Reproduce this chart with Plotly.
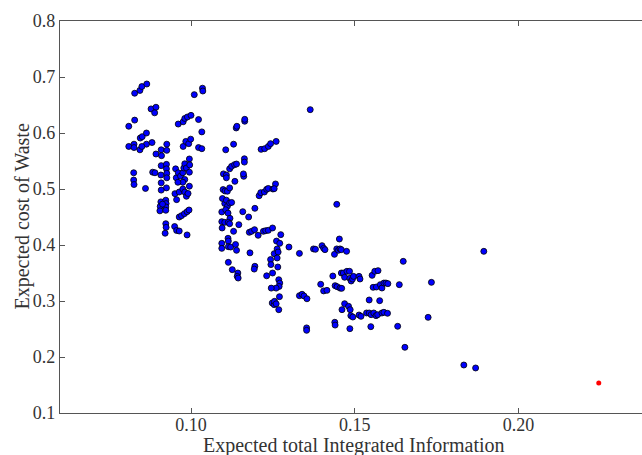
import plotly.graph_objects as go

# Expected total Integrated Information (x) and Expected cost of Waste (y)
x_blue = [
    0.0810, 0.0810, 0.0828, 0.0844, 0.0850, 0.0865, 0.0828, 0.0826, 0.0826, 0.0844,
    0.0845, 0.0851, 0.0864, 0.0864, 0.0850, 0.0881, 0.0878, 0.0893, 0.0889, 0.0825,
    0.0825, 0.0826, 0.0861, 0.0883, 0.0890, 0.0893, 0.0909, 0.0910, 0.0926, 0.0926,
    0.0909, 0.0908, 0.0925, 0.0925, 0.0926, 0.0926, 0.0909, 0.0925, 0.0909, 0.0908,
    0.0906, 0.0905, 0.0923, 0.0924, 0.0923, 0.0923, 0.0913, 0.0923, 0.0924, 0.0921,
    0.0950, 0.0956, 0.0964, 0.1010, 0.1035, 0.1036, 0.0961, 0.0976, 0.0981, 0.0989,
    0.1000, 0.1023, 0.1033, 0.0976, 0.0984, 0.0993, 0.0999, 0.1023, 0.1033, 0.0953,
    0.0955, 0.0961, 0.0968, 0.0975, 0.0978, 0.0981, 0.0986, 0.0995, 0.0981, 0.0975,
    0.0995, 0.0996, 0.0960, 0.0951, 0.0964, 0.0975, 0.0981, 0.0986, 0.0991, 0.0995,
    0.0956, 0.0964, 0.0971, 0.0980, 0.0988, 0.0994, 0.0988,
    0.1106, 0.1130, 0.1138, 0.1140, 0.1164, 0.1164, 0.1099, 0.1108, 0.1108, 0.1118,
    0.1124, 0.1133, 0.1139, 0.1161, 0.1160, 0.1163, 0.1163, 0.1134, 0.1098, 0.1104,
    0.1111, 0.1118, 0.1096, 0.1103, 0.1108, 0.1111, 0.1118, 0.1124, 0.1094, 0.1106,
    0.1113, 0.1119, 0.1094, 0.1103, 0.1114, 0.1118, 0.1130, 0.1146, 0.1158, 0.1095,
    0.1094, 0.1094, 0.1113, 0.1114, 0.1114, 0.1121, 0.1136, 0.1139, 0.1114, 0.1126,
    0.1143, 0.1141, 0.1144, 0.1180, 0.1195, 0.1193, 0.1176, 0.1195, 0.1178, 0.1185,
    0.1194, 0.1205, 0.1214, 0.1225, 0.1236, 0.1243, 0.1260, 0.1208, 0.1213, 0.1224,
    0.1231, 0.1236, 0.1250, 0.1258, 0.1254, 0.1221, 0.1228, 0.1236, 0.1249, 0.1231,
    0.1243, 0.1254, 0.1261, 0.1263, 0.1266, 0.1271, 0.1244, 0.1249, 0.1263, 0.1265,
    0.1274, 0.1268, 0.1271, 0.1269, 0.1260, 0.1245, 0.1270, 0.1248, 0.1254, 0.1255,
    0.1260, 0.1268,
    0.1299, 0.1331, 0.1364, 0.1331, 0.1339, 0.1345, 0.1354, 0.1353, 0.1353, 0.1374,
    0.1380, 0.1400, 0.1405, 0.1409, 0.1396, 0.1405, 0.1415, 0.1433, 0.1438, 0.1439,
    0.1440,
    0.1445, 0.1453, 0.1445, 0.1450, 0.1455, 0.1459, 0.1475, 0.1440, 0.1446, 0.1455,
    0.1460, 0.1459, 0.1465, 0.1469, 0.1476, 0.1484, 0.1485, 0.1489, 0.1493, 0.1496,
    0.1513, 0.1516, 0.1461, 0.1469, 0.1481, 0.1486, 0.1488, 0.1494, 0.1485, 0.1513,
    0.1519, 0.1536, 0.1544, 0.1550, 0.1558, 0.1565, 0.1570, 0.1583, 0.1589, 0.1600,
    0.1544, 0.1576, 0.1553, 0.1561, 0.1571, 0.1556, 0.1566, 0.1578, 0.1583, 0.1589,
    0.1595, 0.1601, 0.1549, 0.1631, 0.1636, 0.1648, 0.1653, 0.1724, 0.1734, 0.1833,
    0.1869, 0.1894,
]
y_blue = [
    0.612, 0.576, 0.671, 0.676, 0.683, 0.6875, 0.623, 0.580, 0.574, 0.570,
    0.591, 0.5935, 0.600, 0.580, 0.576, 0.583, 0.643, 0.646, 0.636, 0.529,
    0.516, 0.508, 0.501, 0.530, 0.529, 0.5625, 0.570, 0.5595, 0.580, 0.569,
    0.5417, 0.525, 0.544, 0.536, 0.528, 0.520, 0.511, 0.502, 0.498, 0.477,
    0.469, 0.461, 0.480, 0.474, 0.468, 0.462, 0.473, 0.438, 0.4315, 0.421,
    0.433, 0.426, 0.425, 0.6685, 0.680, 0.675, 0.616, 0.620, 0.626, 0.6286,
    0.6315, 0.624, 0.602, 0.576, 0.585, 0.581, 0.589, 0.574, 0.572, 0.536,
    0.520, 0.529, 0.523, 0.529, 0.5375, 0.545, 0.5375, 0.530, 0.517, 0.512,
    0.5536, 0.543, 0.512, 0.4917, 0.4946, 0.500, 0.4946, 0.487, 0.492, 0.505,
    0.481, 0.450, 0.4524, 0.456, 0.4595, 0.4625, 0.418,
    0.570, 0.580, 0.609, 0.612, 0.621, 0.6244, 0.527, 0.525, 0.520, 0.536,
    0.5405, 0.5435, 0.5446, 0.5226, 0.527, 0.554, 0.548, 0.5137, 0.499, 0.4964,
    0.496, 0.502, 0.483, 0.474, 0.480, 0.469, 0.475, 0.476, 0.459, 0.463,
    0.457, 0.4476, 0.4417, 0.4405, 0.4405, 0.438, 0.4244, 0.4363, 0.4595, 0.4304,
    0.403, 0.394, 0.412, 0.407, 0.397, 0.3964, 0.401, 0.3905, 0.369, 0.356,
    0.350, 0.344, 0.341, 0.386, 0.362, 0.357, 0.450, 0.4655, 0.4226, 0.4244,
    0.4274, 0.4173, 0.5708, 0.572, 0.576, 0.581, 0.585, 0.488, 0.4935, 0.4946,
    0.4994, 0.501, 0.500, 0.509, 0.5006, 0.4244, 0.4256, 0.4262, 0.4304, 0.345,
    0.374, 0.3845, 0.407, 0.393, 0.3875, 0.403, 0.365, 0.350, 0.3768, 0.3607,
    0.4185, 0.338, 0.332, 0.326, 0.323, 0.323, 0.3077, 0.2964, 0.2935, 0.2994,
    0.295, 0.2845,
    0.3964, 0.385, 0.6417, 0.3095, 0.312, 0.309, 0.304, 0.252, 0.2476, 0.393,
    0.3923, 0.3988, 0.394, 0.3917, 0.3298, 0.318, 0.319, 0.3446, 0.3833, 0.262,
    0.257,
    0.4726, 0.4107, 0.393, 0.3905, 0.393, 0.3917, 0.3887, 0.3274, 0.3256, 0.323,
    0.3226, 0.350, 0.350, 0.3423, 0.353, 0.353, 0.3405, 0.3357, 0.3393, 0.344,
    0.344, 0.3393, 0.2845, 0.2952, 0.2905, 0.2845, 0.2738, 0.2714, 0.2506, 0.275,
    0.2726, 0.2786, 0.2786, 0.2756, 0.2786, 0.2738, 0.2756, 0.2786, 0.2798, 0.278,
    0.3018, 0.3006, 0.3458, 0.353, 0.3542, 0.3244, 0.325, 0.3292, 0.3232, 0.3321,
    0.3321, 0.331, 0.2542, 0.2548, 0.3292, 0.3708, 0.2173, 0.2708, 0.3333, 0.1857,
    0.1804, 0.3887,
]

x_red = [0.2245]
y_red = [0.1536]

x_ticks = [0.10, 0.15, 0.20]
x_tick_text = ["0.10", "0.15", "0.20"]
y_ticks = [0.1, 0.2, 0.3, 0.4, 0.5, 0.6, 0.7, 0.8]
y_tick_text = ["0.1", "0.2", "0.3", "0.4", "0.5", "0.6", "0.7", "0.8"]

x_title = "Expected total Integrated Information"
y_title = "Expected cost of Waste"

FONT = "Liberation Serif"
TXT = "#333333"

fig = go.Figure()
fig.add_trace(go.Scatter(
    x=x_blue, y=y_blue, mode="markers",
    marker=dict(size=6, color="#0000ff", line=dict(color="#000000", width=0.8)),
    showlegend=False, hoverinfo="x+y",
))
fig.add_trace(go.Scatter(
    x=x_red, y=y_red, mode="markers",
    marker=dict(size=5, color="#ff0000", line=dict(width=0)),
    showlegend=False, hoverinfo="x+y",
))

fig.update_layout(
    width=642, height=455,
    margin=dict(l=60, r=0, t=21, b=42, autoexpand=False),
    paper_bgcolor="white", plot_bgcolor="white",
    font=dict(family=FONT, size=18, color=TXT),
    xaxis=dict(
        range=[0.06, 0.2377], tickvals=x_ticks, ticktext=x_tick_text,
        ticks="inside", ticklen=5, tickcolor="#555555",
        showline=True, linecolor="#555555", linewidth=1.2, mirror="ticks",
        showgrid=False, zeroline=False, automargin=False,
        ticklabelstandoff=-5,
    ),
    yaxis=dict(
        range=[0.1, 0.8], tickvals=y_ticks, ticktext=y_tick_text,
        ticks="inside", ticklen=5, tickcolor="#555555",
        showline=True, linecolor="#555555", linewidth=1.2,
        showgrid=False, zeroline=False, automargin=False,
    ),
    annotations=[
        dict(text=x_title, xref="paper", yref="paper", x=0.505, y=0,
             yshift=-19, xanchor="center", yanchor="top", showarrow=False,
             font=dict(family=FONT, size=20, color=TXT)),
        dict(text=y_title, xref="paper", yref="paper", x=0, y=0.5,
             xshift=-52, xanchor="left", yanchor="middle", textangle=-90,
             showarrow=False, font=dict(family=FONT, size=20, color=TXT)),
    ],
)

# remove the browser's default 8px page margin so the figure fills the window
fig.write_html(
    "out.html",
    config={"displayModeBar": False},
    post_script="document.body.style.margin='0';document.body.style.overflow='hidden';",
)
